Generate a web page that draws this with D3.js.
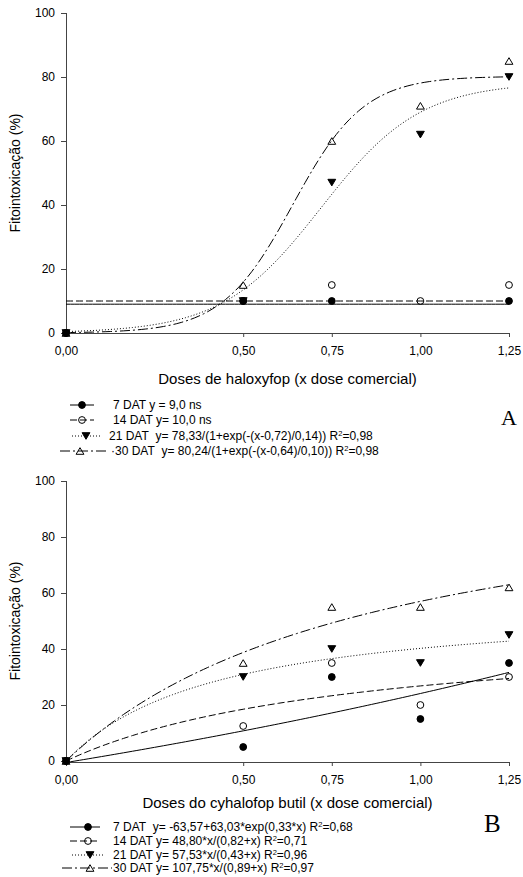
<!DOCTYPE html>
<html>
<head>
<meta charset="utf-8">
<script src="https://cdn.jsdelivr.net/npm/d3@7"></script>
<style>
  html, body { margin: 0; padding: 0; background: #fff; }
  svg { display: block; font-family: "Liberation Sans", Arial, sans-serif; }
</style>
</head>
<body>
<svg id="chart" width="523" height="877"></svg>
<script>
// ---------------- DATA ----------------
const doses = [0, 0.5, 0.75, 1.0, 1.25];
const xTicks = [0, 0.5, 0.75, 1.0, 1.25];
const xTickLabels = ["0,00", "0,50", "0,75", "1,00", "1,25"];
const yTicks = [0, 20, 40, 60, 80, 100];
const seriesNames = ["7 DAT", "14 DAT", "21 DAT", "30 DAT"];

// Panel A – haloxyfop
const haloxyfop7 = [0, 10, 10, null, 10];
const haloxyfop14 = [0, 10, 15, 10, 15];
const haloxyfop21 = [0, 10, 47, 62, 80];
const haloxyfop30 = [0, 15, 60, 71, 85];
// fitted models (coefficients as printed in legend)
const haloxyfopConst = [9.0, 10.0];                // 7 DAT, 14 DAT: y = c
const haloxyfopLogistic21 = [78.33, 0.72, 0.14];   // a, x0, b
const haloxyfopLogistic30 = [80.24, 0.64, 0.10];
const legendA = [
  ["7 DAT y = 9,0 ns"],
  ["14 DAT y= 10,0 ns"],
  ["21 DAT\u00a0 y= 78,33/(1+exp(-(x-0,72)/0,14)) R", "2", "=0,98"],
  ["\u00b730 DAT\u00a0 y= 80,24/(1+exp(-(x-0,64)/0,10)) R", "2", "=0,98"]
];

// Panel B – cyhalofop butil
const cyhalofop7 = [0, 5, 30, 15, 35];
const cyhalofop14 = [0, 12.5, 35, 20, 30];
const cyhalofop21 = [0, 30, 40, 35, 45];
const cyhalofop30 = [0, 35, 55, 55, 62];
const cyhalofopExp7 = [-63.57, 63.03, 0.33];  // y = a + b*exp(c*x)
const cyhalofopHyp14 = [48.80, 0.82];         // y = a*x/(b+x)
const cyhalofopHyp21 = [57.53, 0.43];
const cyhalofopHyp30 = [107.75, 0.89];
const legendB = [
  ["7 DAT\u00a0 y= -63,57+63,03*exp(0,33*x) R", "2", "=0,68"],
  ["14 DAT y= 48,80*x/(0,82+x) R", "2", "=0,71"],
  ["21 DAT y= 57,53*x/(0,43+x) R", "2", "=0,96"],
  ["30 DAT y= 107,75*x/(0,89+x) R", "2", "=0,97"]
];

// ---------------- HELPERS ----------------
const svg = d3.select("#chart");
const FONT = "Liberation Sans, Arial, sans-serif";
const dashes = ["none", "7,3", "1,2", "10,3,2,3"];
const markerTypes = ["filledCircle", "openCircle", "filledDown", "openUp"];

function markerPath(type) {
  if (type === "filledCircle" || type === "openCircle") {
    return d3.symbol().type(d3.symbolCircle).size(Math.PI * 3.4 * 3.4)();
  }
  const w = 3.9, h = 6.6;
  if (type === "filledDown") return `M${-w},${-h/2}L${w},${-h/2}L0,${h/2}Z`;
  return `M${-w},${h/2}L${w},${h/2}L0,${-h/2}Z`;
}
function drawMarker(g, type, x, y) {
  const filled = type.startsWith("filled");
  g.append("path")
    .attr("d", markerPath(type))
    .attr("transform", `translate(${x},${y})`)
    .attr("fill", filled ? "#000" : "none")
    .attr("stroke", "#000")
    .attr("stroke-width", 1);
}

function drawPanel(cfg) {
  const x = d3.scaleLinear().domain([0, 1.25]).range([66, 509]);
  const y = d3.scaleLinear().domain([0, 100]).range([cfg.y0, cfg.y100]);
  const g = svg.append("g");

  // axes
  const xAxis = d3.axisBottom(x).tickValues(xTicks)
    .tickFormat((d, i) => xTickLabels[i]).tickSize(4).tickPadding(cfg.xPad).tickSizeOuter(0);
  const gx = g.append("g").attr("transform", `translate(0,${cfg.xAxisY})`).call(xAxis);
  const yAxis = d3.axisLeft(y).tickValues(yTicks).tickSize(5).tickPadding(6).tickSizeOuter(0);
  const gy = g.append("g").attr("transform", `translate(66,0)`).call(yAxis);
  [gx, gy].forEach(a => {
    a.selectAll("path, line").attr("stroke", "#444").attr("stroke-width", 1);
    a.selectAll("text").attr("font-size", 12).attr("font-family", FONT).attr("fill", "#000");
  });
  gy.select(".domain").attr("d", `M0.5,${cfg.xAxisY}V${cfg.y100}`);

  // axis titles
  g.append("text").attr("x", 287.5).attr("y", cfg.xTitleY)
    .attr("text-anchor", "middle").attr("font-size", 15).attr("font-family", FONT)
    .text(cfg.xTitle);
  g.append("text")
    .attr("transform", `translate(20,${(cfg.y0 + cfg.y100) / 2}) rotate(-90)`)
    .attr("text-anchor", "middle").attr("font-size", 14).attr("font-family", FONT)
    .text("Fitointoxicação (%)");

  // fitted curves
  const xs = d3.range(0, 1.2501, 0.0125);
  const line = d3.line().x(d => x(d[0])).y(d => y(d[1]));
  cfg.models.forEach((f, i) => {
    g.append("path")
      .attr("d", line(xs.map(v => [v, f(v)])))
      .attr("fill", "none").attr("stroke", "#000").attr("stroke-width", 1)
      .attr("stroke-dasharray", dashes[i]);
  });

  // points
  cfg.series.forEach((vals, i) => {
    vals.forEach((v, j) => {
      if (v === null) return;
      drawMarker(g, markerTypes[i], x(doses[j]), y(v));
    });
  });

  // legend
  cfg.legend.forEach((parts, i) => {
    const ly = cfg.legY[i];
    const s = cfg.legSym[i];
    g.append("line").attr("x1", s[0]).attr("x2", s[1]).attr("y1", ly).attr("y2", ly)
      .attr("stroke", "#000").attr("stroke-width", 1).attr("stroke-dasharray", dashes[i]);
    drawMarker(g, markerTypes[i], s[2], ly);
    const t = g.append("text").attr("x", s[3]).attr("y", ly + 4.2)
      .attr("font-size", 12).attr("font-family", FONT);
    t.append("tspan").text(parts[0]);
    if (parts.length > 1) {
      t.append("tspan").attr("font-size", 7.5).attr("dy", -4.5).text(parts[1]);
      t.append("tspan").attr("dy", 4.5).text(parts[2]);
    }
  });

  g.append("text").attr("x", cfg.letterX).attr("y", cfg.letterY)
    .attr("font-family", "Liberation Serif, Times New Roman, serif")
    .attr("font-size", cfg.letterSize).text(cfg.letter);
}

drawPanel({
  y0: 333, y100: 13, xAxisY: 333, xPad: 9,
  xTitle: "Doses de haloxyfop (x dose comercial)", xTitleY: 384,
  series: [haloxyfop7, haloxyfop14, haloxyfop21, haloxyfop30],
  models: [
    () => haloxyfopConst[0],
    () => haloxyfopConst[1],
    v => haloxyfopLogistic21[0] / (1 + Math.exp(-(v - haloxyfopLogistic21[1]) / haloxyfopLogistic21[2])),
    v => haloxyfopLogistic30[0] / (1 + Math.exp(-(v - haloxyfopLogistic30[1]) / haloxyfopLogistic30[2]))
  ],
  legend: legendA,
  legY: [405, 420, 436, 451],
  legSym: [[70, 94, 82, 113], [70, 94, 82, 113], [72, 100, 86, 109], [60, 106, 80, 111]],
  letter: "A", letterX: 501, letterY: 425, letterSize: 22
});

drawPanel({
  y0: 761, y100: 481, xAxisY: 762, xPad: 9,
  xTitle: "Doses do cyhalofop butil (x dose comercial)", xTitleY: 808,
  series: [cyhalofop7, cyhalofop14, cyhalofop21, cyhalofop30],
  models: [
    v => cyhalofopExp7[0] + cyhalofopExp7[1] * Math.exp(cyhalofopExp7[2] * v),
    v => cyhalofopHyp14[0] * v / (cyhalofopHyp14[1] + v),
    v => cyhalofopHyp21[0] * v / (cyhalofopHyp21[1] + v),
    v => cyhalofopHyp30[0] * v / (cyhalofopHyp30[1] + v)
  ],
  legend: legendB,
  legY: [827, 841, 855, 868],
  legSym: [[70, 100, 88, 113], [70, 100, 88, 113], [72, 104, 90, 113], [62, 112, 90, 113]],
  letter: "B", letterX: 484, letterY: 832, letterSize: 25
});
</script>
</body>
</html>
